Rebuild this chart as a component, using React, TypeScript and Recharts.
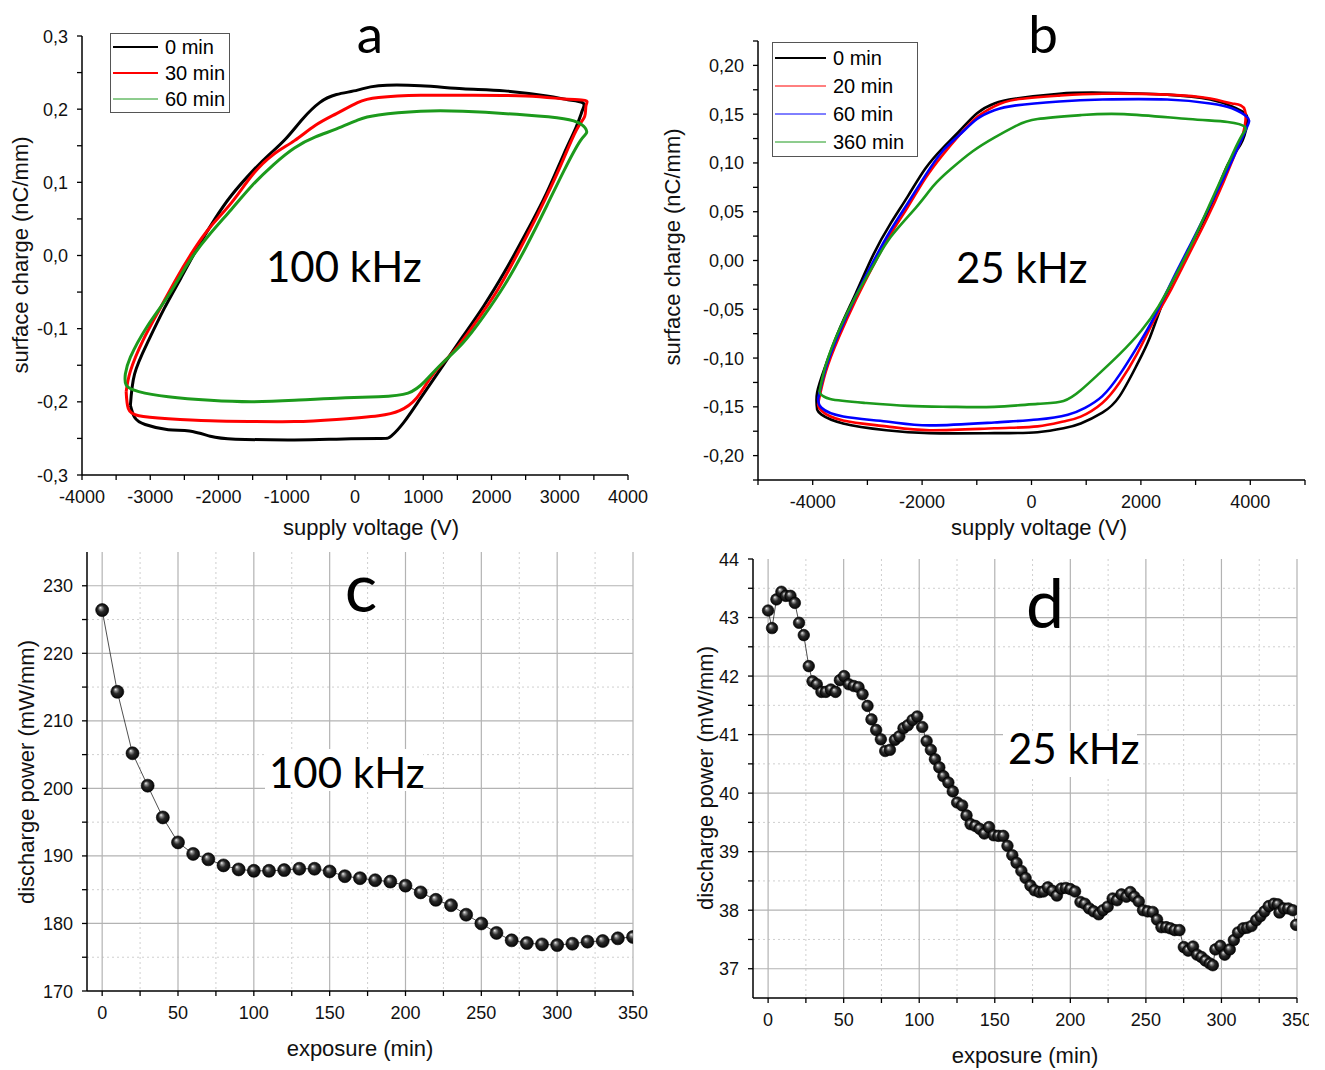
import React from "react";
import { LineChart, Line, XAxis, YAxis, CartesianGrid, Legend } from "recharts";

const AXIS_FONT = '"Liberation Sans", Arial, Helvetica, sans-serif';
const TITLE_FONT = 'Lato, "Open Sans", sans-serif';

// ---------- panel a : charge-voltage loops at 100 kHz (V, nC/mm)
const A_LOOP_0: [number, number][] = [
  [-3291, -0.205], [-3230, -0.221], [-3075, -0.231], [-2736, -0.238], [-2428, -0.24], [-2120, -0.247],
  [-1750, -0.251], [-887, -0.252], [-271, -0.251], [345, -0.25], [530, -0.247], [715, -0.228],
  [961, -0.195], [1270, -0.153], [1578, -0.111], [1886, -0.069], [2194, -0.022], [2502, 0.03],
  [2810, 0.086], [3057, 0.138], [3242, 0.176], [3334, 0.199], [3334, 0.209], [3119, 0.213],
  [2810, 0.218], [2194, 0.225], [1578, 0.228], [961, 0.232], [345, 0.232], [37, 0.226],
  [-271, 0.22], [-518, 0.209], [-764, 0.187], [-1011, 0.16], [-1257, 0.138], [-1504, 0.115],
  [-1812, 0.082], [-2059, 0.049], [-2305, 0.011], [-2552, -0.031], [-2798, -0.073], [-3045, -0.12],
  [-3230, -0.162], [-3291, -0.205],
];
const A_LOOP_30: [number, number][] = [
  [-3353, -0.186], [-3322, -0.209], [-3168, -0.219], [-2736, -0.223], [-2120, -0.226], [-1504, -0.227],
  [-887, -0.227], [-271, -0.224], [345, -0.219], [653, -0.212], [900, -0.195], [1146, -0.162],
  [1455, -0.13], [1763, -0.092], [2071, -0.05], [2379, 0.002], [2687, 0.058], [2995, 0.119],
  [3242, 0.171], [3365, 0.19], [3385, 0.205], [3370, 0.212], [3057, 0.214], [2502, 0.218],
  [1578, 0.219], [961, 0.219], [345, 0.216], [37, 0.209], [-271, 0.194], [-579, 0.178],
  [-887, 0.157], [-1196, 0.138], [-1504, 0.11], [-1812, 0.072], [-2120, 0.039], [-2367, 0.007],
  [-2613, -0.031], [-2860, -0.073], [-3106, -0.116], [-3291, -0.158], [-3353, -0.186],
];
const A_LOOP_60: [number, number][] = [
  [-3365, -0.162], [-3353, -0.177], [-3168, -0.186], [-2736, -0.193], [-2120, -0.198], [-1504, -0.2],
  [-887, -0.198], [-271, -0.195], [345, -0.193], [777, -0.188], [1023, -0.172], [1270, -0.148],
  [1578, -0.12], [1886, -0.083], [2194, -0.04], [2502, 0.011], [2810, 0.068], [3057, 0.115],
  [3303, 0.157], [3396, 0.169], [3303, 0.18], [3057, 0.187], [2502, 0.192], [1578, 0.197],
  [961, 0.197], [345, 0.192], [37, 0.185], [-271, 0.173], [-579, 0.162], [-887, 0.147],
  [-1196, 0.124], [-1504, 0.096], [-1812, 0.063], [-2120, 0.03], [-2428, -0.008], [-2736, -0.055],
  [-3045, -0.097], [-3291, -0.139], [-3365, -0.162],
];

// ---------- panel b : charge-voltage loops at 25 kHz
const B_LOOP_0: [number, number][] = [
  [-3918, -0.153], [-3839, -0.158], [-3444, -0.167], [-2654, -0.174], [-1864, -0.177], [-679, -0.177],
  [111, -0.176], [585, -0.172], [900, -0.167], [1295, -0.156], [1611, -0.139], [1927, -0.107],
  [2164, -0.079], [2401, -0.043], [2638, -0.015], [2954, 0.02], [3270, 0.055], [3586, 0.098],
  [3823, 0.119], [3942, 0.14], [3902, 0.151], [3665, 0.158], [3270, 0.165], [2480, 0.17],
  [1295, 0.172], [506, 0.171], [-284, 0.166], [-679, 0.161], [-995, 0.151], [-1311, 0.133],
  [-1627, 0.115], [-1943, 0.094], [-2259, 0.066], [-2575, 0.038], [-2891, 0.006], [-3207, -0.033],
  [-3523, -0.072], [-3760, -0.107], [-3918, -0.135], [-3918, -0.153],
];
const B_LOOP_20: [number, number][] = [
  [-3902, -0.147], [-3839, -0.154], [-3444, -0.164], [-2654, -0.17], [-1864, -0.174], [-679, -0.172],
  [111, -0.17], [585, -0.165], [900, -0.16], [1295, -0.146], [1611, -0.125], [1927, -0.096],
  [2243, -0.061], [2559, -0.029], [2875, 0.006], [3191, 0.041], [3507, 0.08], [3744, 0.112],
  [3863, 0.129], [3902, 0.154], [3665, 0.161], [3270, 0.166], [2480, 0.17], [1295, 0.171],
  [506, 0.169], [-284, 0.165], [-679, 0.158], [-995, 0.147], [-1311, 0.129], [-1627, 0.108],
  [-1943, 0.084], [-2259, 0.055], [-2575, 0.027], [-2891, -0.005], [-3207, -0.04], [-3523, -0.079],
  [-3760, -0.114], [-3902, -0.147],
];
const B_LOOP_60: [number, number][] = [
  [-3902, -0.142], [-3839, -0.151], [-3444, -0.16], [-2654, -0.165], [-1864, -0.169], [-679, -0.166],
  [111, -0.163], [664, -0.158], [979, -0.151], [1295, -0.139], [1611, -0.117], [1927, -0.089],
  [2243, -0.058], [2559, -0.022], [2875, 0.013], [3191, 0.048], [3507, 0.084], [3744, 0.112],
  [3942, 0.137], [3942, 0.147], [3665, 0.156], [3270, 0.161], [2480, 0.165], [1295, 0.165],
  [506, 0.163], [-284, 0.159], [-679, 0.154], [-995, 0.145], [-1311, 0.129], [-1627, 0.112],
  [-1943, 0.087], [-2259, 0.059], [-2575, 0.031], [-2891, -0.001], [-3207, -0.036], [-3523, -0.075],
  [-3760, -0.11], [-3902, -0.142],
];
const B_LOOP_360: [number, number][] = [
  [-3878, -0.135], [-3681, -0.142], [-3049, -0.146], [-2259, -0.149], [-1469, -0.15], [-679, -0.15],
  [111, -0.147], [585, -0.144], [900, -0.133], [1216, -0.117], [1611, -0.096], [2006, -0.072],
  [2322, -0.047], [2638, -0.015], [2954, 0.02], [3270, 0.059], [3586, 0.098], [3823, 0.126],
  [3902, 0.137], [3586, 0.142], [2875, 0.145], [1690, 0.15], [900, 0.149], [111, 0.145],
  [-284, 0.138], [-679, 0.126], [-1074, 0.112], [-1469, 0.094], [-1785, 0.077], [-2101, 0.055],
  [-2575, 0.024], [-2891, -0.005], [-3207, -0.036], [-3523, -0.072], [-3760, -0.107], [-3878, -0.135],
];

// ---------- panel c : discharge power at 100 kHz
const C_TIME = [0, 10, 20, 30, 40, 50, 60, 70, 80, 90, 100, 110, 120, 130, 140, 150, 160, 170,
  180, 190, 200, 210, 220, 230, 240, 250, 260, 270, 280, 290, 300, 310, 320, 330, 340, 350];
const C_POWER = [226.4, 214.3, 205.2, 200.4, 195.7, 192.0, 190.3, 189.5, 188.6, 188.0, 187.8, 187.8,
  187.9, 188.1, 188.1, 187.7, 187.0, 186.7, 186.4, 186.2, 185.6, 184.6, 183.5, 182.7, 181.3, 180.0,
  178.6, 177.5, 177.1, 176.9, 176.8, 177.0, 177.3, 177.4, 177.8, 178.0];

// ---------- panel d : discharge power at 25 kHz
const D_TIME = [0, 2.6, 5.5, 8.8, 11.7, 14.8, 17.7, 20.5, 23.6, 26.9, 29.4, 32.2, 35.3, 38.2, 41.5,
  44.6, 47.5, 50.3, 53.4, 56.7, 59.8, 62.5, 65.8, 68.4, 71.5, 74.6, 77.5, 80.6, 83.9, 86.8, 89.6,
  92.5, 95.6, 98.7, 102, 104.9, 107.7, 110.4, 113.3, 116, 119.3, 122.2, 125.1, 128.4, 131.3, 134,
  137.1, 140, 143.1, 146.2, 149.3, 152.4, 155.6, 158.4, 161.6, 164.4, 167.6, 170.4, 173.6, 176.4,
  179.6, 182.2, 185.1, 188.2, 191.1, 194, 197.1, 200, 203.1, 206.7, 209.6, 212.5, 215.5, 218.8,
  221.6, 224.7, 228, 230.9, 233.8, 237.1, 239.7, 242.4, 245.3, 248.1, 251.2, 254.5, 257.4, 260.3,
  263.4, 266.2, 269.1, 272.2, 275.1, 278, 281.2, 283.9, 286.8, 289.4, 292.3, 294.3, 296, 299.3,
  302.2, 305.5, 308.2, 311, 314.4, 317, 319.9, 323, 325.8, 328.5, 331.3, 334.7, 337.3, 338.4,
  341.3, 344.2, 347.2, 349.4];
const D_POWER = [43.12, 42.82, 43.31, 43.44, 43.37, 43.37, 43.25, 42.91, 42.7, 42.17, 41.91, 41.86,
  41.73, 41.73, 41.77, 41.73, 41.93, 42.0, 41.86, 41.83, 41.81, 41.69, 41.49, 41.26, 41.08, 40.92,
  40.72, 40.74, 40.91, 40.97, 41.11, 41.16, 41.25, 41.31, 41.13, 40.89, 40.74, 40.58, 40.44, 40.29,
  40.18, 40.03, 39.84, 39.79, 39.62, 39.47, 39.44, 39.39, 39.31, 39.42, 39.28, 39.27, 39.27, 39.1,
  38.94, 38.81, 38.67, 38.55, 38.42, 38.34, 38.31, 38.32, 38.39, 38.33, 38.25, 38.37, 38.38, 38.36,
  38.32, 38.14, 38.11, 38.03, 37.98, 37.93, 38.0, 38.06, 38.2, 38.17, 38.27, 38.23, 38.31, 38.23,
  38.15, 38.0, 37.98, 37.97, 37.84, 37.71, 37.71, 37.69, 37.66, 37.66, 37.37, 37.31, 37.38, 37.24,
  37.2, 37.14, 37.09, 37.06, 37.33, 37.39, 37.24, 37.33, 37.49, 37.62, 37.69, 37.7, 37.73, 37.83,
  37.9, 37.98, 38.07, 38.11, 38.1, 37.96, 38.03, 38.03, 38.0, 37.75];

// ---------- ticks
const A_X_TICKS = [-4000, -3500, -3000, -2500, -2000, -1500, -1000, -500, 0, 500, 1000, 1500, 2000, 2500, 3000, 3500, 4000];
const A_X_LABELS = [-4000, -3000, -2000, -1000, 0, 1000, 2000, 3000, 4000];
const A_Y_TICKS = [-0.3, -0.25, -0.2, -0.15, -0.1, -0.05, 0, 0.05, 0.1, 0.15, 0.2, 0.25, 0.3];
const A_Y_LABELS = [-0.3, -0.2, -0.1, 0, 0.1, 0.2, 0.3];
const B_X_TICKS = [-5000, -4000, -3000, -2000, -1000, 0, 1000, 2000, 3000, 4000, 5000];
const B_X_LABELS = [-4000, -2000, 0, 2000, 4000];
const B_Y_TICKS = [-0.225, -0.2, -0.175, -0.15, -0.125, -0.1, -0.075, -0.05, -0.025, 0, 0.025, 0.05,
  0.075, 0.1, 0.125, 0.15, 0.175, 0.2, 0.225];
const B_Y_LABELS = [-0.2, -0.15, -0.1, -0.05, 0, 0.05, 0.1, 0.15, 0.2];
const CD_X_TICKS = [0, 25, 50, 75, 100, 125, 150, 175, 200, 225, 250, 275, 300, 325, 350];
const CD_X_LABELS = [0, 50, 100, 150, 200, 250, 300, 350];
const C_Y_TICKS = [170, 175, 180, 185, 190, 195, 200, 205, 210, 215, 220, 225, 230];
const C_Y_LABELS = [170, 180, 190, 200, 210, 220, 230];
const D_Y_TICKS = [37, 37.5, 38, 38.5, 39, 39.5, 40, 40.5, 41, 41.5, 42, 42.5, 43, 43.5, 44];
const D_Y_LABELS = [37, 38, 39, 40, 41, 42, 43, 44];

// grid lines of c and d
const CD_X_GRID_MAJOR = [0, 50, 100, 150, 200, 250, 300, 350];
const CD_X_GRID_MINOR = [25, 75, 125, 175, 225, 275, 325];
const C_Y_GRID_MAJOR = [180, 190, 200, 210, 220, 230];
const C_Y_GRID_MINOR = [175, 185, 195, 205, 215, 225];
const D_Y_GRID_MAJOR = [37, 38, 39, 40, 41, 42, 43];
const D_Y_GRID_MINOR = [37.5, 38.5, 39.5, 40.5, 41.5, 42.5, 43.5];

const A_SERIES = [
  { name: "0 min", color: "#000000", legendWidth: 2, loop: A_LOOP_0 },
  { name: "30 min", color: "#ff0000", legendWidth: 2, loop: A_LOOP_30 },
  { name: "60 min", color: "#1c9a1c", legendWidth: 1, loop: A_LOOP_60 },
];
const B_SERIES = [
  { name: "0 min", color: "#000000", legendWidth: 2, loop: B_LOOP_0 },
  { name: "20 min", color: "#ff0000", legendWidth: 1, loop: B_LOOP_20 },
  { name: "60 min", color: "#0000ff", legendWidth: 1, loop: B_LOOP_60 },
  { name: "360 min", color: "#1c9a1c", legendWidth: 1, loop: B_LOOP_360 },
];

const toPoints = (loop: [number, number][]) => loop.map(([v, q]) => ({ v, q }));
const C_POINTS = C_TIME.map((t, i) => ({ t, p: C_POWER[i] }));
const D_POINTS = D_TIME.map((t, i) => ({ t, p: D_POWER[i] }));

const isIn = (list: number[], v: number) => list.some((m) => Math.abs(m - v) < 1e-9);
const comma = (digits: number) => (v: number) => v.toFixed(digits).replace(".", ",");
const plain = (v: number) => String(v);

function bottomTick(labels: number[], fmt: (v: number) => string) {
  return (props: any) => {
    const { x, y, payload } = props;
    const v = payload.value;
    return (
      <g>
        <line x1={x} x2={x} y1={y} y2={y + 5} stroke="#000" strokeWidth={1.3} />
        {isIn(labels, v) && (
          <text x={x} y={y + 28} textAnchor="middle" fontSize={18} fontFamily={AXIS_FONT} fill="#111">
            {fmt(v)}
          </text>
        )}
      </g>
    );
  };
}

function leftTick(labels: number[], fmt: (v: number) => string) {
  return (props: any) => {
    const { x, y, payload } = props;
    const v = payload.value;
    return (
      <g>
        <line x1={x} x2={x - 5} y1={y} y2={y} stroke="#000" strokeWidth={1.3} />
        {isIn(labels, v) && (
          <text x={x - 14} y={y + 6.5} textAnchor="end" fontSize={18} fontFamily={AXIS_FONT} fill="#111">
            {fmt(v)}
          </text>
        )}
      </g>
    );
  };
}

function SphereDot(props: any) {
  const { cx, cy, r } = props;
  if (cx == null || cy == null) return <g />;
  return <circle cx={cx} cy={cy} r={r} fill="url(#sphereFill)" stroke="#000" strokeWidth={0.6} />;
}

interface LegendItem {
  name: string;
  color: string;
  legendWidth: number;
}

function LegendBox({ items, width, height, first, gap, lineLen, textX }: {
  items: LegendItem[]; width: number; height: number; first: number; gap: number; lineLen: number; textX: number;
}) {
  return (
    <svg width={width} height={height} style={{ display: "block" }}>
      <rect x={0.5} y={0.5} width={width - 1} height={height - 1} fill="#fff" stroke="#555" />
      {items.map((it, i) => (
        <g key={it.name}>
          <line x1={3} x2={3 + lineLen} y1={first + i * gap} y2={first + i * gap} stroke={it.color} strokeWidth={it.legendWidth} />
          <text x={textX} y={first + i * gap + 7} fontSize={20} fontFamily={AXIS_FONT} fill="#000">
            {it.name}
          </text>
        </g>
      ))}
    </svg>
  );
}

const axisLine = { stroke: "#000", strokeWidth: 1.5 };

function PanelA() {
  return (
    <LineChart width={660} height={540} margin={{ top: 36, right: 32, left: 22, bottom: 5 }}>
      <XAxis type="number" dataKey="v" domain={[-4000, 4000]} allowDataOverflow ticks={A_X_TICKS} interval={0}
        height={60} tickSize={0} tickMargin={0} tickLine={false} axisLine={axisLine} tick={bottomTick(A_X_LABELS, plain)} />
      <YAxis type="number" dataKey="q" domain={[-0.3, 0.3]} allowDataOverflow ticks={A_Y_TICKS} interval={0}
        width={60} tickSize={0} tickMargin={0} tickLine={false} axisLine={axisLine} tick={leftTick(A_Y_LABELS, comma(1))} />
      {A_SERIES.map((s) => (
        <Line key={s.name} data={toPoints(s.loop)} dataKey="q" name={s.name} type="natural" stroke={s.color}
          strokeWidth={3} strokeLinejoin="round" dot={false} isAnimationActive={false} />
      ))}
      <Legend layout="vertical" align="center" verticalAlign="middle"
        wrapperStyle={{ left: 110, top: 33, width: 120, height: 80 }}
        content={() => <LegendBox items={A_SERIES} width={120} height={80} first={14} gap={26} lineLen={45} textX={55} />} />
    </LineChart>
  );
}

function PanelB() {
  return (
    <LineChart width={675} height={540} margin={{ top: 41, right: 20, left: 48, bottom: 0 }}>
      <XAxis type="number" dataKey="v" domain={[-5000, 5000]} allowDataOverflow ticks={B_X_TICKS} interval={0}
        height={60} tickSize={0} tickMargin={0} tickLine={false} axisLine={axisLine} tick={bottomTick(B_X_LABELS, plain)} />
      <YAxis type="number" dataKey="q" domain={[-0.225, 0.225]} allowDataOverflow ticks={B_Y_TICKS} interval={0}
        width={60} tickSize={0} tickMargin={0} tickLine={false} axisLine={axisLine} tick={leftTick(B_Y_LABELS, comma(2))} />
      {B_SERIES.map((s) => (
        <Line key={s.name} data={toPoints(s.loop)} dataKey="q" name={s.name} type="natural" stroke={s.color}
          strokeWidth={2.6} strokeLinejoin="round" dot={false} isAnimationActive={false} />
      ))}
      <Legend layout="vertical" align="center" verticalAlign="middle"
        wrapperStyle={{ left: 122, top: 42, width: 146, height: 115 }}
        content={() => <LegendBox items={B_SERIES} width={146} height={115} first={16} gap={28} lineLen={51} textX={61} />} />
    </LineChart>
  );
}

function PowerPanel({ data, width, height, margin, yDomain, yTicks, yLabels, yMajor, yMinor, r }: any) {
  return (
    <LineChart width={width} height={height} data={data} margin={margin}>
      <CartesianGrid horizontalValues={yMinor} verticalValues={CD_X_GRID_MINOR} stroke="#cfcfcf" strokeDasharray="2 3" />
      <CartesianGrid horizontalValues={yMajor} verticalValues={CD_X_GRID_MAJOR} stroke="#b3b3b3" strokeWidth={1.2} />
      <XAxis type="number" dataKey="t" domain={[-10, 350]} allowDataOverflow ticks={CD_X_TICKS} interval={0}
        height={60} tickSize={0} tickMargin={0} tickLine={false} axisLine={axisLine} tick={bottomTick(CD_X_LABELS, plain)} />
      <YAxis type="number" domain={yDomain} allowDataOverflow ticks={yTicks} interval={0}
        width={60} tickSize={0} tickMargin={0} tickLine={false} axisLine={axisLine} tick={leftTick(yLabels, plain)} />
      <Line dataKey="p" type="linear" stroke="#222" strokeWidth={0.8} isAnimationActive={false}
        dot={(p: any) => <SphereDot key={`dot-${p.index}`} cx={p.cx} cy={p.cy} r={r} />} />
    </LineChart>
  );
}

export default function App() {
  const textStyle = { fontFamily: AXIS_FONT, fontSize: 22, fill: "#111" };
  const titleStyle = { fontFamily: TITLE_FONT, fill: "#000" };
  return (
    <div style={{ position: "absolute", left: 0, top: 0, width: 1325, height: 1070, background: "#fff", overflow: "hidden" }}>
      <div style={{ position: "absolute", left: 0, top: 0 }}>
        <PanelA />
      </div>
      <div style={{ position: "absolute", left: 650, top: 0 }}>
        <PanelB />
      </div>
      <div style={{ position: "absolute", left: 0, top: 540 }}>
        <PowerPanel data={C_POINTS} width={660} height={530} margin={{ top: 12, right: 27, left: 27, bottom: 19 }}
          yDomain={[170, 235]} yTicks={C_Y_TICKS} yLabels={C_Y_LABELS} yMajor={C_Y_GRID_MAJOR} yMinor={C_Y_GRID_MINOR} r={6.5} />
      </div>
      <div style={{ position: "absolute", left: 680, top: 540, width: 629, height: 530, overflow: "hidden" }}>
        <PowerPanel data={D_POINTS} width={645} height={530} margin={{ top: 19, right: 28, left: 13, bottom: 12 }}
          yDomain={[36.5, 44]} yTicks={D_Y_TICKS} yLabels={D_Y_LABELS} yMajor={D_Y_GRID_MAJOR} yMinor={D_Y_GRID_MINOR} r={5.8} />
      </div>
      <svg width={1325} height={1070} style={{ position: "absolute", left: 0, top: 0, pointerEvents: "none" }}>
        <defs>
          <radialGradient id="sphereFill" cx="0.5" cy="0.5" r="0.5" fx="0.35" fy="0.3">
            <stop offset="0%" stopColor="#f4f4f4" />
            <stop offset="22%" stopColor="#8a8a8a" />
            <stop offset="50%" stopColor="#2a2a2a" />
            <stop offset="100%" stopColor="#050505" />
          </radialGradient>
        </defs>
        {/* axis titles */}
        <text x={371} y={527} textAnchor="middle" dominantBaseline="central" style={textStyle}>supply voltage (V)</text>
        <text x={1039} y={527} textAnchor="middle" dominantBaseline="central" style={textStyle}>supply voltage (V)</text>
        <text x={360} y={1048} textAnchor="middle" dominantBaseline="central" style={textStyle}>exposure (min)</text>
        <text x={1025} y={1055} textAnchor="middle" dominantBaseline="central" style={textStyle}>exposure (min)</text>
        <text x={20} y={255} transform="rotate(-90 20 255)" textAnchor="middle" dominantBaseline="central" style={textStyle}>surface charge (nC/mm)</text>
        <text x={672} y={247} transform="rotate(-90 672 247)" textAnchor="middle" dominantBaseline="central" style={textStyle}>surface charge (nC/mm)</text>
        <text x={26} y={772} transform="rotate(-90 26 772)" textAnchor="middle" dominantBaseline="central" style={textStyle}>discharge power (mW/mm)</text>
        <text x={705} y={778} transform="rotate(-90 705 778)" textAnchor="middle" dominantBaseline="central" style={textStyle}>discharge power (mW/mm)</text>
        {/* panel letters */}
        <text x={370} y={53} textAnchor="middle" fontSize={53} style={titleStyle}>a</text>
        <text x={1043} y={53} textAnchor="middle" fontSize={53} style={titleStyle}>b</text>
        <text x={361} y={612} textAnchor="middle" fontSize={68} style={titleStyle}>c</text>
        <text x={1045} y={628} textAnchor="middle" fontSize={68} style={titleStyle}>d</text>
        {/* frequency labels */}
        <text x={266} y={282} fontSize={42} style={titleStyle}>100 kHz</text>
        <text x={956} y={283} fontSize={42} style={titleStyle}>25 kHz</text>
        <rect x={265} y={749} width={158} height={42} fill="#fff" />
        <text x={269} y={788} fontSize={42} style={titleStyle}>100 kHz</text>
        <rect x={1003} y={731} width={134} height={46} fill="#fff" />
        <text x={1008} y={764} fontSize={42} style={titleStyle}>25 kHz</text>
      </svg>
    </div>
  );
}
